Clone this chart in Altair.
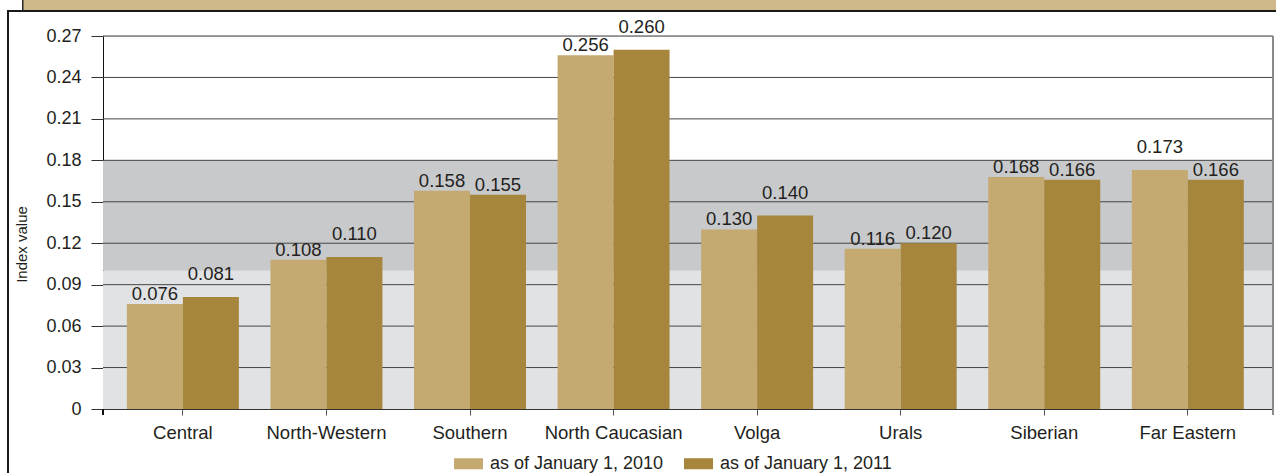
import altair as alt
import pandas as pd

# Regional index values by federal district
regions = ["Central", "North-Western", "Southern", "North Caucasian",
           "Volga", "Urals", "Siberian", "Far Eastern"]
series_names = ["as of January 1, 2010", "as of January 1, 2011"]
values_2010 = [0.076, 0.108, 0.158, 0.256, 0.130, 0.116, 0.168, 0.173]
values_2011 = [0.081, 0.110, 0.155, 0.260, 0.140, 0.120, 0.166, 0.166]

# y-axis ticks and shaded value zones
y_ticks = [0, 0.03, 0.06, 0.09, 0.12, 0.15, 0.18, 0.21, 0.24, 0.27]
zone_low = [0.0, 0.10]
zone_high = [0.10, 0.18]
zone_colors = ["#e1e2e4", "#c8c9cb"]

# labels lifted higher above their bar
lifted_labels = [("Central", 1), ("North-Western", 1), ("North Caucasian", 1),
                 ("Volga", 1), ("Far Eastern", 0)]

W, H = 1170, 373
FONT = "Liberation Sans"
TEXT = "#231f20"
LABEL_SIZE = 18.5

rows = []
for i, r in enumerate(regions):
    for s, vals in enumerate([values_2010, values_2011]):
        rows.append({
            "region": r,
            "series": series_names[s],
            "value": vals[i],
            "label": f"{vals[i]:.3f}",
            "lifted": (r, s) in lifted_labels,
        })
bars_df = pd.DataFrame(rows)
zones_df = pd.DataFrame({"value": zone_low, "hi": zone_high, "c": zone_colors})
grid_df = pd.DataFrame({"value": y_ticks[1:]})

yscale = alt.Scale(domain=[0, 0.27], nice=False, zero=True)
xscale = alt.Scale(domain=regions, paddingInner=0.22, paddingOuter=0.185, align=0.45)

yaxis = alt.Axis(values=y_ticks, format=".2~f", tickSize=12, labelPadding=10,
                 grid=False, domainColor="#111111", tickColor="#333333",
                 labelFontSize=18, labelColor=TEXT, labelFont=FONT,
                 title="Index value", titleFontSize=15, titleFontWeight="normal",
                 titleColor=TEXT, titleFont=FONT, titleX=-74, titleY=208)
xaxis = alt.Axis(title=None, labelAngle=0, tickSize=6, labelPadding=8,
                 domainColor="#333333", tickColor="#555555",
                 labelFontSize=LABEL_SIZE, labelColor=TEXT, labelFont=FONT)

Y = alt.Y("value:Q", scale=yscale, axis=yaxis, title="Index value")

zones = alt.Chart(zones_df).mark_rect().encode(
    x=alt.value(0), x2=alt.value(W),
    y=Y,
    y2="hi:Q",
    color=alt.Color("c:N", scale=None),
)

grid = alt.Chart(grid_df).mark_rule(color="#454545", strokeWidth=1).encode(
    x=alt.value(0), x2=alt.value(W),
    y=Y,
)

bars = alt.Chart(bars_df).mark_bar().encode(
    x=alt.X("region:N", scale=xscale, sort=regions, axis=xaxis),
    xOffset=alt.XOffset("series:N", sort=series_names),
    y=Y,
    color=alt.Color("series:N", sort=series_names,
                    scale=alt.Scale(domain=series_names, range=["#c4a970", "#a6853c"]),
                    legend=alt.Legend(title=None, orient="none", direction="horizontal",
                                      legendX=351, legendY=413,
                                      symbolType="M-1,-0.38H1V0.38H-1Z", symbolSize=841,
                                      symbolStrokeWidth=0, labelOffset=7, columnPadding=20,
                                      labelFontSize=18, labelColor=TEXT, labelFont=FONT,
                                      labelLimit=0, padding=0)),
)

label_base = alt.Chart(bars_df).encode(
    x=alt.X("region:N", scale=xscale, sort=regions, axis=xaxis),
    xOffset=alt.XOffset("series:N", sort=series_names),
    y=Y,
    text="label:N",
)
labels_near = label_base.mark_text(baseline="alphabetic", dy=-4, fontSize=LABEL_SIZE,
                                   font=FONT, color=TEXT).transform_filter("!datum.lifted")
labels_lifted = label_base.mark_text(baseline="alphabetic", dy=-17, fontSize=LABEL_SIZE,
                                     font=FONT, color=TEXT).transform_filter("datum.lifted")

# frame: header strip, panel border, axis end lines
header = alt.Chart(grid_df).mark_rect(color="#cfb888", stroke="#2a2a2a", strokeWidth=1).encode(
    x=alt.value(23 - 103), x2=alt.value(1290 - 103),
    y=alt.value(-50), y2=alt.value(10.5 - 36),
)
panel_top = alt.Chart(grid_df).mark_rule(color="#1a1a1a", strokeWidth=1.5).encode(
    x=alt.value(7 - 103), x2=alt.value(1276 - 103), y=alt.value(11 - 36),
)
panel_left = alt.Chart(grid_df).mark_rule(color="#1a1a1a", strokeWidth=1.5).encode(
    x=alt.value(8 - 103), y=alt.value(11 - 36), y2=alt.value(473 - 36),
)
left_stub = alt.Chart(grid_df).mark_rule(color="#111111", strokeWidth=1).encode(
    x=alt.value(0), y=alt.value(H), y2=alt.value(H + 6),
)
right_edge = alt.Chart(grid_df).mark_rule(color="#8a8a8a", strokeWidth=2).encode(
    x=alt.value(W), y=alt.value(0), y2=alt.value(H + 6),
)

chart = alt.layer(
    zones, grid, bars, labels_near, labels_lifted,
    header, panel_top, panel_left, left_stub, right_edge,
).resolve_scale(color="independent").properties(
    width=W, height=H,
    autosize=alt.AutoSizeParams(type="none"),
    padding={"left": 103, "top": 36, "right": 3, "bottom": 64},
).configure_view(stroke=None).configure(background="white")

chart.save("out.html", embed_options={"renderer": "svg", "actions": False})
